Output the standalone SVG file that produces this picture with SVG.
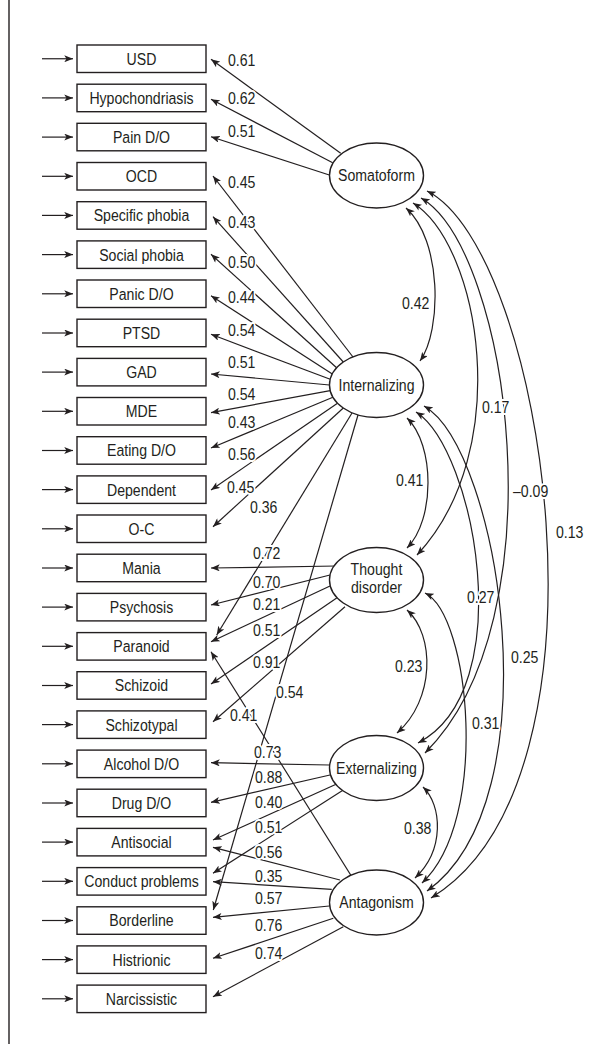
<svg xmlns="http://www.w3.org/2000/svg" width="611" height="1044" viewBox="0 0 611 1044">
<style>
.f{font-family:"Liberation Sans Narrow","Liberation Sans",Arial,sans-serif;font-size:17px;fill:#231f20}
.bx{fill:#fff;stroke:#231f20;stroke-width:1.4}
.el{fill:#fff;stroke:#231f20;stroke-width:1.4}
.ln{fill:none;stroke:#231f20;stroke-width:1.2}
.lb{paint-order:stroke;stroke:#fff;stroke-width:4px;stroke-linejoin:round}
.c{text-anchor:middle}
</style>
<defs>
<marker id="ah" viewBox="0 0 10 8" refX="10" refY="4" markerWidth="9" markerHeight="7" orient="auto-start-reverse" markerUnits="userSpaceOnUse">
<path d="M0,0 L10,4 L0,8 L2.5,4 z" fill="#231f20"/>
</marker>
</defs>
<rect width="611" height="1044" fill="#fff"/>
<line x1="9" y1="0" x2="9" y2="1044" stroke="#231f20" stroke-width="1.4"/>

<g id="connectors" class="ln">
<g marker-end="url(#ah)">
<line x1="42" y1="58.75" x2="73" y2="58.75"/>
<line x1="42" y1="97.9" x2="73" y2="97.9"/>
<line x1="42" y1="137.1" x2="73" y2="137.1"/>
<line x1="42" y1="176.3" x2="73" y2="176.3"/>
<line x1="42" y1="215.4" x2="73" y2="215.4"/>
<line x1="42" y1="254.6" x2="73" y2="254.6"/>
<line x1="42" y1="293.8" x2="73" y2="293.8"/>
<line x1="42" y1="333" x2="73" y2="333"/>
<line x1="42" y1="372.1" x2="73" y2="372.1"/>
<line x1="42" y1="411.3" x2="73" y2="411.3"/>
<line x1="42" y1="450.5" x2="73" y2="450.5"/>
<line x1="42" y1="489.6" x2="73" y2="489.6"/>
<line x1="42" y1="528.8" x2="73" y2="528.8"/>
<line x1="42" y1="568" x2="73" y2="568"/>
<line x1="42" y1="607.1" x2="73" y2="607.1"/>
<line x1="42" y1="646.3" x2="73" y2="646.3"/>
<line x1="42" y1="685.5" x2="73" y2="685.5"/>
<line x1="42" y1="724.6" x2="73" y2="724.6"/>
<line x1="42" y1="763.8" x2="73" y2="763.8"/>
<line x1="42" y1="803" x2="73" y2="803"/>
<line x1="42" y1="842.1" x2="73" y2="842.1"/>
<line x1="42" y1="881.3" x2="73" y2="881.3"/>
<line x1="42" y1="920.5" x2="73" y2="920.5"/>
<line x1="42" y1="959.6" x2="73" y2="959.6"/>
<line x1="42" y1="998.8" x2="73" y2="998.8"/>
</g>
<g marker-end="url(#ah)">
<line x1="340.7" y1="153.3" x2="211" y2="59.3"/>
<line x1="332.7" y1="162.7" x2="211" y2="99.3"/>
<line x1="329.3" y1="175" x2="211" y2="136.7"/>

<line x1="353" y1="357" x2="213" y2="176"/>
<line x1="343.3" y1="362" x2="213" y2="216.7"/>
<line x1="336.6" y1="367.8" x2="211" y2="254.3"/>
<line x1="332.3" y1="373.9" x2="211" y2="295.7"/>
<line x1="330.2" y1="379.3" x2="211" y2="334.3"/>
<line x1="329.5" y1="385" x2="211" y2="374"/>
<line x1="330.2" y1="390.6" x2="211" y2="412.7"/>
<line x1="332.9" y1="397.2" x2="211" y2="448"/>
<line x1="337.5" y1="403.2" x2="211" y2="490"/>
<line x1="343.3" y1="408" x2="213" y2="526.7"/>
<line x1="352" y1="413" x2="216.7" y2="635"/>
<line x1="358" y1="415" x2="213.3" y2="910"/>

<line x1="336.7" y1="566" x2="211" y2="568"/>
<line x1="330" y1="575" x2="211" y2="605"/>
<line x1="330" y1="586" x2="211" y2="641.7"/>
<line x1="336.7" y1="598" x2="211" y2="684"/>
<line x1="345" y1="606.7" x2="213" y2="721.7"/>

<line x1="329.5" y1="765" x2="211" y2="762.7"/>
<line x1="330" y1="775" x2="211" y2="802.3"/>
<line x1="338.3" y1="783.3" x2="213" y2="840"/>
<line x1="343.3" y1="790" x2="213" y2="873.3"/>

<line x1="350.7" y1="875" x2="211" y2="651.7"/>
<line x1="340" y1="880" x2="213" y2="847.3"/>
<line x1="331.7" y1="889.3" x2="213" y2="881.7"/>
<line x1="329.3" y1="906" x2="213" y2="917.3"/>
<line x1="333.3" y1="918.3" x2="213" y2="958.3"/>
<line x1="343.3" y1="926.7" x2="213" y2="996.7"/>
</g>
<g marker-start="url(#ah)" marker-end="url(#ah)">
<path d="M406,208 C442,240 442,330 420,361"/>
<path d="M413,203 C480,245 515,450 417,555"/>
<path d="M421,198 C510,250 560,620 425,753"/>
<path d="M427,191 C545,250 625,780 431,898"/>
<path d="M407,418 C435,445 435,520 407,548"/>
<path d="M416,412 C475,450 520,690 418,743"/>
<path d="M424,406 C500,450 555,800 427,891"/>
<path d="M407,610 C435,635 435,700 397,733"/>
<path d="M425,593 C470,615 490,820 422,883"/>
<path d="M423,787 C442,805 445,850 415,878"/>
</g>
</g>

<g id="labels" class="f lb">
<text transform="scale(0.83,1)" x="274.70" y="66">0.61</text>
<text transform="scale(0.83,1)" x="274.70" y="103.7">0.62</text>
<text transform="scale(0.83,1)" x="274.70" y="136.7">0.51</text>
<text transform="scale(0.83,1)" x="274.70" y="187.7">0.45</text>
<text transform="scale(0.83,1)" x="274.70" y="228.5">0.43</text>
<text transform="scale(0.83,1)" x="274.70" y="268.3">0.50</text>
<text transform="scale(0.83,1)" x="274.70" y="302.7">0.44</text>
<text transform="scale(0.83,1)" x="274.70" y="336">0.54</text>
<text transform="scale(0.83,1)" x="274.70" y="368.3">0.51</text>
<text transform="scale(0.83,1)" x="274.70" y="400">0.54</text>
<text transform="scale(0.83,1)" x="274.70" y="428.3">0.43</text>
<text transform="scale(0.83,1)" x="274.70" y="460">0.56</text>
<text transform="scale(0.83,1)" x="273.49" y="492.7">0.45</text>
<text transform="scale(0.83,1)" x="301.20" y="513.3">0.36</text>
<text transform="scale(0.83,1)" x="304.82" y="559.3">0.72</text>
<text transform="scale(0.83,1)" x="304.82" y="587.7">0.70</text>
<text transform="scale(0.83,1)" x="304.82" y="610">0.21</text>
<text transform="scale(0.83,1)" x="304.82" y="636.5">0.51</text>
<text transform="scale(0.83,1)" x="304.82" y="667.7">0.91</text>
<text transform="scale(0.83,1)" x="332.53" y="697.7">0.54</text>
<text transform="scale(0.83,1)" x="277.11" y="721">0.41</text>
<text transform="scale(0.83,1)" x="306.02" y="758.3">0.73</text>
<text transform="scale(0.83,1)" x="307.23" y="783.3">0.88</text>
<text transform="scale(0.83,1)" x="307.23" y="807.7">0.40</text>
<text transform="scale(0.83,1)" x="307.23" y="833.3">0.51</text>
<text transform="scale(0.83,1)" x="307.23" y="858.3">0.56</text>
<text transform="scale(0.83,1)" x="307.23" y="882">0.35</text>
<text transform="scale(0.83,1)" x="307.23" y="904.3">0.57</text>
<text transform="scale(0.83,1)" x="307.23" y="931">0.76</text>
<text transform="scale(0.83,1)" x="307.23" y="958.7">0.74</text>
<text transform="scale(0.83,1)" x="484.34" y="308.7">0.42</text>
<text transform="scale(0.83,1)" x="580.72" y="412.7">0.17</text>
<text transform="scale(0.83,1)" x="618.07" y="496.7">–0.09</text>
<text transform="scale(0.83,1)" x="669.88" y="538">0.13</text>
<text transform="scale(0.83,1)" x="477.11" y="486">0.41</text>
<text transform="scale(0.83,1)" x="562.65" y="602.7">0.27</text>
<text transform="scale(0.83,1)" x="615.66" y="662.7">0.25</text>
<text transform="scale(0.83,1)" x="475.90" y="672">0.23</text>
<text transform="scale(0.83,1)" x="568.67" y="729.3">0.31</text>
<text transform="scale(0.83,1)" x="486.75" y="834.3">0.38</text>
</g>

<g id="n-usd"><rect class="bx" x="77" y="45" width="129" height="27.5"/><text class="f c" transform="scale(0.83,1)" x="170.48" y="64.75">USD</text></g>
<g id="n-hypochondriasis"><rect class="bx" x="77" y="84.2" width="129" height="27.5"/><text class="f c" transform="scale(0.83,1)" x="170.48" y="103.9">Hypochondriasis</text></g>
<g id="n-pain"><rect class="bx" x="77" y="123.3" width="129" height="27.5"/><text class="f c" transform="scale(0.83,1)" x="170.48" y="143.1">Pain D/O</text></g>
<g id="n-ocd"><rect class="bx" x="77" y="162.5" width="129" height="27.5"/><text class="f c" transform="scale(0.83,1)" x="170.48" y="182.3">OCD</text></g>
<g id="n-specific"><rect class="bx" x="77" y="201.7" width="129" height="27.5"/><text class="f c" transform="scale(0.83,1)" x="170.48" y="221.4">Specific phobia</text></g>
<g id="n-social"><rect class="bx" x="77" y="240.9" width="129" height="27.5"/><text class="f c" transform="scale(0.83,1)" x="170.48" y="260.6">Social phobia</text></g>
<g id="n-panic"><rect class="bx" x="77" y="280" width="129" height="27.5"/><text class="f c" transform="scale(0.83,1)" x="170.48" y="299.8">Panic D/O</text></g>
<g id="n-ptsd"><rect class="bx" x="77" y="319.2" width="129" height="27.5"/><text class="f c" transform="scale(0.83,1)" x="170.48" y="339">PTSD</text></g>
<g id="n-gad"><rect class="bx" x="77" y="358.4" width="129" height="27.5"/><text class="f c" transform="scale(0.83,1)" x="170.48" y="378.1">GAD</text></g>
<g id="n-mde"><rect class="bx" x="77" y="397.5" width="129" height="27.5"/><text class="f c" transform="scale(0.83,1)" x="170.48" y="417.3">MDE</text></g>
<g id="n-eating"><rect class="bx" x="77" y="436.7" width="129" height="27.5"/><text class="f c" transform="scale(0.83,1)" x="170.48" y="456.5">Eating D/O</text></g>
<g id="n-dependent"><rect class="bx" x="77" y="475.9" width="129" height="27.5"/><text class="f c" transform="scale(0.83,1)" x="170.48" y="495.6">Dependent</text></g>
<g id="n-oc"><rect class="bx" x="77" y="515" width="129" height="27.5"/><text class="f c" transform="scale(0.83,1)" x="170.48" y="534.8">O-C</text></g>
<g id="n-mania"><rect class="bx" x="77" y="554.2" width="129" height="27.5"/><text class="f c" transform="scale(0.83,1)" x="170.48" y="574">Mania</text></g>
<g id="n-psychosis"><rect class="bx" x="77" y="593.4" width="129" height="27.5"/><text class="f c" transform="scale(0.83,1)" x="170.48" y="613.1">Psychosis</text></g>
<g id="n-paranoid"><rect class="bx" x="77" y="632.6" width="129" height="27.5"/><text class="f c" transform="scale(0.83,1)" x="170.48" y="652.3">Paranoid</text></g>
<g id="n-schizoid"><rect class="bx" x="77" y="671.7" width="129" height="27.5"/><text class="f c" transform="scale(0.83,1)" x="170.48" y="691.5">Schizoid</text></g>
<g id="n-schizotypal"><rect class="bx" x="77" y="710.9" width="129" height="27.5"/><text class="f c" transform="scale(0.83,1)" x="170.48" y="730.6">Schizotypal</text></g>
<g id="n-alcohol"><rect class="bx" x="77" y="750.1" width="129" height="27.5"/><text class="f c" transform="scale(0.83,1)" x="170.48" y="769.8">Alcohol D/O</text></g>
<g id="n-drug"><rect class="bx" x="77" y="789.2" width="129" height="27.5"/><text class="f c" transform="scale(0.83,1)" x="170.48" y="809">Drug D/O</text></g>
<g id="n-antisocial"><rect class="bx" x="77" y="828.4" width="129" height="27.5"/><text class="f c" transform="scale(0.83,1)" x="170.48" y="848.1">Antisocial</text></g>
<g id="n-conduct"><rect class="bx" x="77" y="867.6" width="129" height="27.5"/><text class="f c" transform="scale(0.83,1)" x="170.48" y="887.3">Conduct problems</text></g>
<g id="n-borderline"><rect class="bx" x="77" y="906.8" width="129" height="27.5"/><text class="f c" transform="scale(0.83,1)" x="170.48" y="926.5">Borderline</text></g>
<g id="n-histrionic"><rect class="bx" x="77" y="945.9" width="129" height="27.5"/><text class="f c" transform="scale(0.83,1)" x="170.48" y="965.6">Histrionic</text></g>
<g id="n-narcissistic"><rect class="bx" x="77" y="985.1" width="129" height="27.5"/><text class="f c" transform="scale(0.83,1)" x="170.48" y="1004.8">Narcissistic</text></g>

<g id="n-somatoform"><ellipse class="el" cx="376.5" cy="175.5" rx="47" ry="32.5"/><text class="f c" transform="scale(0.83,1)" x="453.61" y="181.5">Somatoform</text></g>
<g id="n-internalizing"><ellipse class="el" cx="376.5" cy="385" rx="47" ry="32.5"/><text class="f c" transform="scale(0.83,1)" x="453.61" y="391">Internalizing</text></g>
<g id="n-thought"><ellipse class="el" cx="376.5" cy="580" rx="47" ry="32.5"/><text class="f c" transform="scale(0.83,1)" x="453.61" y="575.5">Thought</text><text class="f c" transform="scale(0.83,1)" x="453.61" y="593.5">disorder</text></g>
<g id="n-externalizing"><ellipse class="el" cx="376.5" cy="768" rx="47" ry="32.5"/><text class="f c" transform="scale(0.83,1)" x="453.61" y="774">Externalizing</text></g>
<g id="n-antagonism"><ellipse class="el" cx="376.5" cy="902.5" rx="47" ry="32.5"/><text class="f c" transform="scale(0.83,1)" x="453.61" y="908.5">Antagonism</text></g>
</svg>
